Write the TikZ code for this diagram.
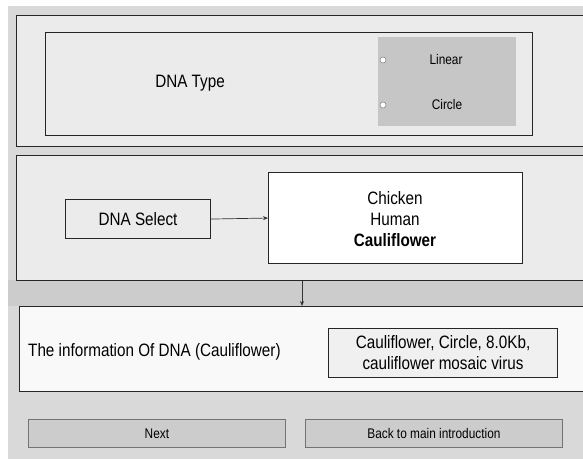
\documentclass[tikz,border=0pt]{standalone}
\usepackage{fontspec}
\setmainfont{Liberation Sans}[FakeStretch=0.85]
\usetikzlibrary{arrows.meta}
\definecolor{bgframe}{HTML}{D9D9D9}
\definecolor{panelfill}{HTML}{EBEBEB}
\definecolor{panellight}{HTML}{F9F9F9}
\definecolor{optfill}{HTML}{C6C6C6}
\definecolor{infofill}{HTML}{F0F0F0}
\definecolor{btnfill}{HTML}{CCCCCC}
\tikzset{
  box/.style={draw=black!85, line width=1.1pt, inner sep=0pt, anchor=north west},
  panel/.style={box, line width=1.3pt, fill=panelfill},
  big/.style={font=\fontsize{18}{21}\selectfont, inner sep=0pt},
  small/.style={font=\fontsize{14}{16}\selectfont, inner sep=0pt},
  button/.style={draw=black!55, line width=0.8pt, fill=btnfill, inner sep=0pt,
    anchor=north west, minimum width=257bp, minimum height=28bp,
    font=\fontsize{14}{16}\selectfont},
  radio/.style={circle, draw=black!50, fill=white, line width=0.5pt,
    inner sep=0pt, minimum size=6bp},
  link/.style={draw=black!80, line width=0.7pt, -{Stealth[length=5bp,width=4bp]}},
}
\begin{document}
\begin{tikzpicture}[x=1bp,y=-1bp]
\useasboundingbox (0,0) rectangle (583,459);
\clip (0,0) rectangle (583,459);
% page backdrop
\fill[white] (0,0) rectangle (583,459);
\fill[bgframe] (8,6) rectangle (583,459);
\fill[black!20] (8,280) rectangle (583,306);

% --- DNA type panel ---
\node[panel, minimum width=580bp, minimum height=131bp] (p1) at (16,15) {};
\node[box, fill=panelfill, minimum width=487bp, minimum height=103bp] (typebox) at (45,32) {};
\node[inner sep=0pt, anchor=north west, fill=optfill, minimum width=138bp, minimum height=89bp] (opts) at (378,37) {};
\node[big] (typelbl) at (190,83) {DNA Type};
\node[radio] (r1) at (383,60) {};
\node[radio] (r2) at (383,105) {};
\node[small] (lin) at (446,60) {Linear};
\node[small] (cir) at (447,105) {Circle};

% --- DNA select panel ---
\node[panel, minimum width=580bp, minimum height=125bp] (p2) at (16,155) {};
\node[box, fill=panelfill, minimum width=145bp, minimum height=39bp] (sel) at (65,199) {};
\node[big] at (sel.center) {DNA Select};
\node[box, fill=white, minimum width=254bp, minimum height=91bp] (list) at (268,172) {};
\node[big, align=center] at (395,219) {Chicken\\Human\\\textbf{Cauliflower}};
\draw[link] (sel.east) -- (list.west);

% --- information panel ---
\node[panel, fill=panellight, minimum width=577bp, minimum height=85bp] (p3) at (19,306) {};
\node[big, anchor=west] (infolbl) at (28,352) {The information Of DNA (Cauliflower)};
\node[box, fill=infofill, minimum width=229bp, minimum height=49bp] (info) at (328,328) {};
\node[big, align=center] at (info.center) {Cauliflower, Circle, 8.0Kb,\\cauliflower mosaic virus};

\coordinate (down) at (302,0);
\draw[link] (p2.south -| down) -- (p3.north -| down);

% --- buttons ---
\node[button] (next) at (28,419) {};
\node[small] at (next.center) {Next};
\node[button] (back) at (305,419) {};
\node[small] at (back.center) {Back to main introduction};
\end{tikzpicture}
\end{document}
